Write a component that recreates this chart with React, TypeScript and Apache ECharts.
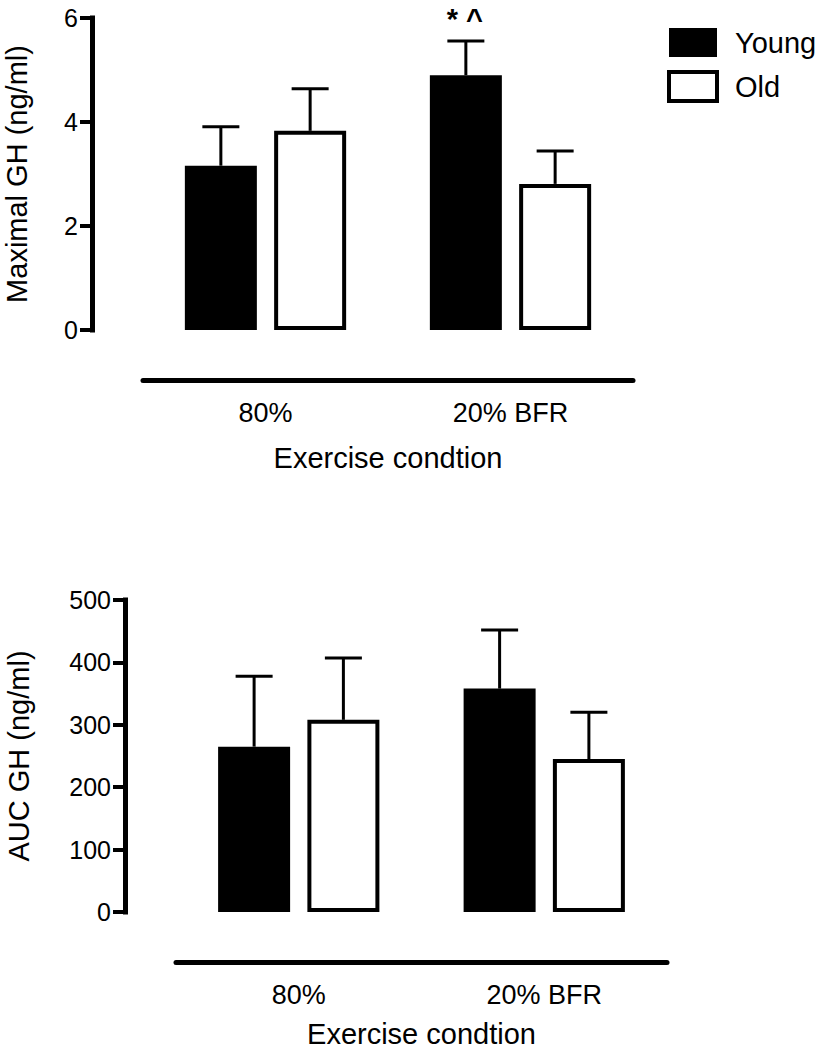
import React, { useEffect, useRef } from "react";
import * as echarts from "echarts";

// ---------- data ----------
const categories = ["80%", "20% BFR"];
const groupNames = ["Young", "Old"];

// Panel A: Maximal GH (ng/ml)
const maxGhYoungMean = [3.16, 4.9];
const maxGhYoungErrTop = [3.91, 5.56];
const maxGhOldMean = [3.83, 2.81];
const maxGhOldErrTop = [4.64, 3.44];
const maxGhYoungMarks = ["", "* ^"];
const maxGhAxis = [0, 6, 2]; // min, max, interval

// Panel B: AUC GH (ng/ml)
const aucYoungMean = [265, 358];
const aucYoungErrTop = [378, 452];
const aucOldMean = [308, 245];
const aucOldErrTop = [407, 320];
const aucAxis = [0, 500, 100];

const xTitle = "Exercise condtion";
const yTitleA = "Maximal GH (ng/ml)";
const yTitleB = "AUC GH (ng/ml)";

// ---------- style ----------
const FONT = "'Liberation Sans', Arial, Helvetica, sans-serif";
const BAR_W = 72;
const BAR_GAP = 0.24;
const OFFSET = (BAR_W + BAR_W * BAR_GAP) / 2;
const CAP = 37;

function errorBars(
  xAxisIndex: number,
  yAxisIndex: number,
  means: number[],
  tops: number[],
  dir: number,
  marks?: string[]
) {
  return {
    type: "custom",
    xAxisIndex,
    yAxisIndex,
    silent: true,
    z: 3,
    data: means.map((m, i) => [i, m, tops[i]]),
    renderItem: (params: any, api: any) => {
      const cat = api.value(0);
      const base = api.coord([cat, api.value(1)]);
      const top = api.coord([cat, api.value(2)]);
      const x = base[0] + dir * OFFSET;
      const children: any[] = [
        {
          type: "line",
          shape: { x1: x, y1: base[1], x2: x, y2: top[1] },
          style: { stroke: "#000", lineWidth: 3 },
        },
        {
          type: "line",
          shape: { x1: x - CAP / 2, y1: top[1], x2: x + CAP / 2, y2: top[1] },
          style: { stroke: "#000", lineWidth: 3 },
        },
      ];
      const mark = marks ? marks[params.dataIndex] : "";
      if (mark) {
        children.push({
          type: "text",
          x: x - 1,
          y: top[1] - 22,
          style: {
            text: mark,
            fontSize: 29,
            fontWeight: "bold",
            fontFamily: FONT,
            fill: "#000",
            align: "center",
            verticalAlign: "middle",
          },
        });
      }
      return { type: "group", children };
    },
  };
}

function xAxisDef(gridIndex: number, nameGap: number) {
  return {
    type: "category",
    gridIndex,
    data: categories,
    offset: 50,
    axisLine: { onZero: false, lineStyle: { color: "#000", width: 5 } },
    axisTick: { alignWithLabel: true, length: 11, lineStyle: { color: "#000", width: 4 } },
    axisLabel: { color: "#000", fontSize: 27, fontFamily: FONT, margin: 19 },
    name: xTitle,
    nameLocation: "middle",
    nameGap,
    nameTextStyle: { color: "#000", fontSize: 29, fontFamily: FONT },
  };
}

function yAxisDef(gridIndex: number, axis: number[], title: string, nameGap: number) {
  return {
    type: "value",
    gridIndex,
    min: axis[0],
    max: axis[1],
    interval: axis[2],
    offset: 51,
    splitLine: { show: false },
    axisLine: { show: true, onZero: false, lineStyle: { color: "#000", width: 5, cap: "square" } },
    axisTick: { show: true, length: 12, lineStyle: { color: "#000", width: 4 } },
    axisLabel: { color: "#000", fontSize: 25, fontFamily: FONT, margin: 14 },
    name: title,
    nameLocation: "middle",
    nameGap,
    nameTextStyle: { color: "#000", fontSize: 29, fontFamily: FONT },
  };
}

function barSeries(name: string, xAxisIndex: number, yAxisIndex: number, data: number[]) {
  const young = name === groupNames[0];
  return {
    type: "bar",
    name,
    xAxisIndex,
    yAxisIndex,
    data,
    barWidth: BAR_W,
    barGap: `${BAR_GAP * 100}%`,
    itemStyle: {
      color: young ? "#000" : "#fff",
      borderColor: "#000",
      borderWidth: young ? 2 : 4,
    },
  };
}

export default function App() {
  const ref = useRef<HTMLDivElement>(null);
  useEffect(() => {
    if (!ref.current) return;
    const chart = echarts.init(ref.current, undefined, { renderer: "svg" });
    chart.setOption({
      animation: false,
      backgroundColor: "#fff",
      textStyle: { fontFamily: FONT },
      legend: {
        left: 667,
        top: 28,
        orient: "vertical",
        padding: 0,
        itemWidth: 48,
        itemHeight: 29,
        itemGap: 13,
        selectedMode: false,
        textStyle: { color: "#000", fontSize: 29, fontFamily: FONT, padding: [0, 0, 0, 13] },
        data: [
          { name: groupNames[0], icon: "rect", itemStyle: { color: "#000", borderWidth: 0 } },
          {
            name: groupNames[1],
            icon: "rect",
            itemStyle: { color: "#fff", borderColor: "#000", borderWidth: 4 },
          },
        ],
      },
      grid: [
        { left: 143, top: 18, width: 490, height: 312, containLabel: false, outerBoundsMode: "none" },
        { left: 176, top: 600, width: 491, height: 312, containLabel: false, outerBoundsMode: "none" },
      ],
      xAxis: [xAxisDef(0, 63), xAxisDef(1, 57)],
      yAxis: [yAxisDef(0, maxGhAxis, yTitleA, 61), yAxisDef(1, aucAxis, yTitleB, 92)],
      series: [
        barSeries(groupNames[0], 0, 0, maxGhYoungMean),
        barSeries(groupNames[1], 0, 0, maxGhOldMean),
        barSeries(groupNames[0], 1, 1, aucYoungMean),
        barSeries(groupNames[1], 1, 1, aucOldMean),
        errorBars(0, 0, maxGhYoungMean, maxGhYoungErrTop, -1, maxGhYoungMarks),
        errorBars(0, 0, maxGhOldMean, maxGhOldErrTop, 1),
        errorBars(1, 1, aucYoungMean, aucYoungErrTop, -1),
        errorBars(1, 1, aucOldMean, aucOldErrTop, 1),
      ],
    });
    return () => chart.dispose();
  }, []);
  return (
    <div
      ref={ref}
      style={{ position: "absolute", left: 0, top: 0, width: 817, height: 1050, background: "#fff" }}
    />
  );
}
